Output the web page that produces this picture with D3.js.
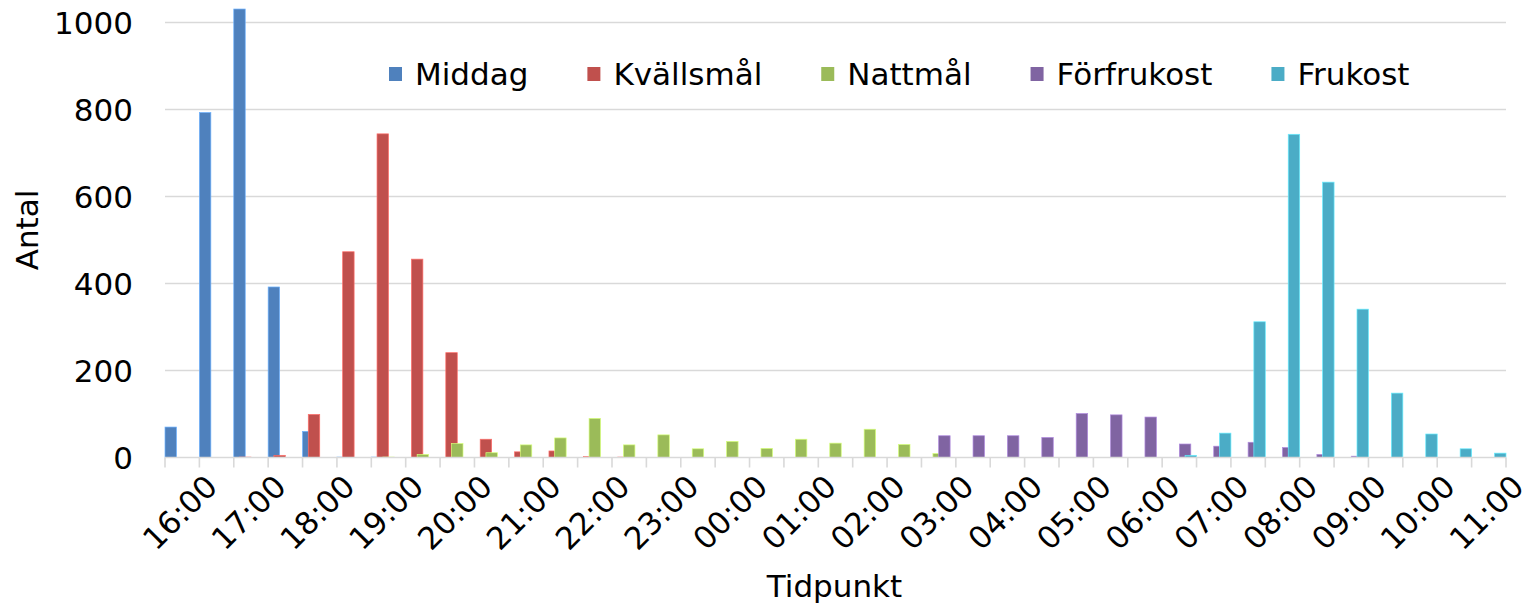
<!DOCTYPE html>
<html><head><meta charset="utf-8">
<script src="https://cdn.jsdelivr.net/npm/d3@7"></script>
<style>body{margin:0;background:#fff}svg{display:block}text{font-family:"DejaVu Sans",Verdana,sans-serif;fill:#000}</style>
</head><body>
<svg id="c" width="1532" height="605"></svg>
<script>
const categories = ["16:00","16:30","17:00","17:30","18:00","18:30","19:00","19:30","20:00","20:30","21:00","21:30","22:00","22:30","23:00","23:30","00:00","00:30","01:00","01:30","02:00","02:30","03:00","03:30","04:00","04:30","05:00","05:30","06:00","06:30","07:00","07:30","08:00","08:30","09:00","09:30","10:00","10:30","11:00"];
const tickLabels = ["16:00","17:00","18:00","19:00","20:00","21:00","22:00","23:00","00:00","01:00","02:00","03:00","04:00","05:00","06:00","07:00","08:00","09:00","10:00","11:00"];
const seriesNames = ["Middag","Kvällsmål","Nattmål","Förfrukost","Frukost"];
const colors = ["#4F81BD","#C0504D","#9BBB59","#8064A2","#4BACC6"];
const middag     = [70,793,1031,392,60,1,1,0,0,0,0,0,0,0,0,0,0,0,0,0,0,0,0,0,0,0,0,0,0,0,0,0,0,0,0,0,0,0,0];
const kvallsmal  = [0,0,1,5,99,473,744,456,241,42,13,15,2,1,0,0,0,0,0,0,0,0,0,0,0,0,0,0,0,0,0,0,0,0,0,0,0,0,0];
const nattmal    = [0,0,0,0,0,0,1,7,32,11,29,45,90,29,52,20,37,21,42,33,65,30,9,0,0,0,0,0,0,0,0,0,0,0,0,0,0,0,0];
const forfrukost = [0,0,0,0,0,0,0,0,0,0,0,0,0,0,0,0,0,0,0,0,0,0,50,50,50,46,101,98,93,31,26,35,23,7,3,0,0,0,0];
const frukost    = [0,0,0,0,0,0,0,0,0,0,0,0,0,0,0,0,0,0,0,0,0,0,0,0,0,0,0,0,0,5,56,312,743,633,341,148,54,20,10];
const yTicks = [0,200,400,600,800,1000];

const series = [middag,kvallsmal,nattmal,forfrukost,frukost];
const svg = d3.select("#c");
const L = 165, R = 1506, T = 22.5, B = 457.5;
const FS = 31;
const x = d3.scaleBand().domain(categories).range([L,R]).padding(0);
const y = d3.scaleLinear().domain([0,1000]).range([B,T]);
const bw = x.bandwidth(), s = bw/6, w = 2*s;

// gridlines
svg.append("g").selectAll("line").data(yTicks.filter(d=>d>0)).join("line")
  .attr("x1",L).attr("x2",R).attr("y1",d=>y(d)).attr("y2",d=>y(d))
  .attr("stroke","#d9d9d9").attr("stroke-width",1.4);

// bars
series.forEach((vals,i)=>{
  svg.append("g").selectAll("rect").data(vals.map((v,j)=>({c:categories[j],v}))).join("rect")
    .filter(d=>d.v>0)
    .attr("x",d=>x(d.c)+i*s).attr("width",w)
    .attr("y",d=>y(d.v)).attr("height",d=>B-y(d.v))
    .attr("fill",colors[i])
    .attr("stroke",d3.color(colors[i]).brighter(0.9)).attr("stroke-width",0.7);
});

// x axis
svg.append("line").attr("x1",L).attr("x2",R).attr("y1",B).attr("y2",B).attr("stroke","#d9d9d9").attr("stroke-width",1.6);
const tickPos = categories.map(c=>x(c)).concat([R]);
svg.append("g").selectAll("line").data(tickPos).join("line")
  .attr("x1",d=>d).attr("x2",d=>d).attr("y1",B).attr("y2",B+10)
  .attr("stroke","#d9d9d9").attr("stroke-width",1.6);
const labelCats = categories.filter(c=>tickLabels.includes(c));
svg.append("g").selectAll("text").data(labelCats).join("text")
  .attr("transform",d=>`translate(${x(d)+bw/2+37},${B+31}) rotate(-45)`)
  .attr("text-anchor","end").attr("font-size",FS).text(d=>d);

// y labels
svg.append("g").selectAll("text").data(yTicks).join("text")
  .attr("x",133).attr("y",d=>y(d)).attr("dy","0.36em")
  .attr("text-anchor","end").attr("font-size",FS).text(d=>d);

// axis titles
svg.append("text").attr("x",(L+R)/2-1).attr("y",596.5).attr("text-anchor","middle").attr("font-size",FS).text("Tidpunkt");
svg.append("text").attr("transform","translate(38,230) rotate(-90)").attr("text-anchor","middle").attr("font-size",FS).text("Antal");

// legend
let lx = 389;
seriesNames.forEach((n,i)=>{
  const g = svg.append("g");
  g.append("rect").attr("x",lx).attr("y",67).attr("width",13).attr("height",14).attr("fill",colors[i]);
  const t = g.append("text").attr("x",lx+26).attr("y",74).attr("dy","0.36em").attr("font-size",FS).text(n);
  lx = lx + 26 + t.node().getComputedTextLength() + 59;
});
</script>
</body></html>
